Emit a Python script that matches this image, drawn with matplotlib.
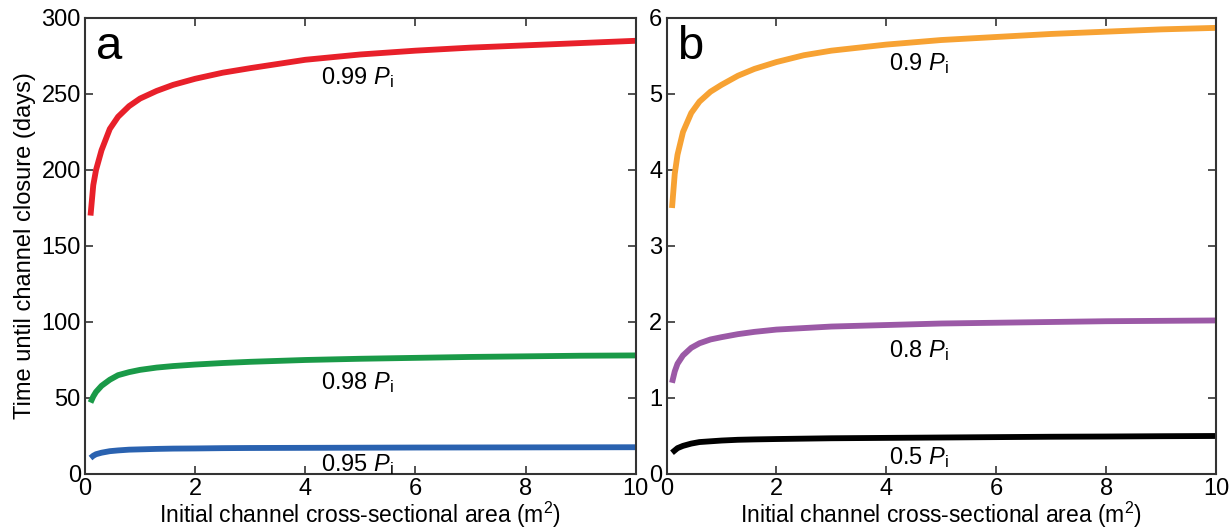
import numpy as np
import matplotlib.pyplot as plt

plt.rcParams['font.family'] = ['Liberation Sans', 'DejaVu Sans']
plt.rcParams['mathtext.fontset'] = 'custom'
plt.rcParams['mathtext.rm'] = 'Liberation Sans'
plt.rcParams['mathtext.it'] = 'Liberation Sans:italic'

# Data
area = [0.1, 0.15, 0.2, 0.3, 0.45, 0.6, 0.8, 1.0, 1.3, 1.6,
        2, 2.5, 3, 4, 5, 6, 7, 8, 9, 10]

t_099 = [170, 190, 200, 213, 227, 235, 242, 247, 252, 256,
         260, 264, 267, 272.5, 276, 278.5, 280.5, 282, 283.5, 285]
t_098 = [47, 51, 54, 58, 62, 65, 67, 68.5, 70, 71,
         72, 73, 73.8, 75, 75.8, 76.4, 77, 77.4, 77.8, 78]
t_095 = [10.5, 12, 13, 14, 15, 15.5, 16, 16.2, 16.5, 16.7,
         16.8, 17, 17.1, 17.2, 17.3, 17.4, 17.45, 17.5, 17.55, 17.6]

t_09 = [3.5, 3.95, 4.2, 4.5, 4.75, 4.9, 5.03, 5.12, 5.24, 5.33,
        5.42, 5.51, 5.57, 5.65, 5.71, 5.75, 5.79, 5.82, 5.85, 5.87]
t_08 = [1.2, 1.35, 1.45, 1.56, 1.66, 1.72, 1.77, 1.8, 1.84, 1.87,
        1.9, 1.92, 1.94, 1.96, 1.98, 1.99, 2.0, 2.01, 2.015, 2.02]
t_05 = [0.28, 0.31, 0.34, 0.37, 0.4, 0.42, 0.43, 0.44, 0.45, 0.455,
        0.46, 0.465, 0.47, 0.475, 0.48, 0.485, 0.49, 0.493, 0.497, 0.5]

fs = 17
fig = plt.figure(figsize=(12.32, 5.29), dpi=100)
ax1 = fig.add_axes([0.069, 0.104, 0.447, 0.862])
ax2 = fig.add_axes([0.541, 0.104, 0.446, 0.862])

lw = 4.2
ax1.plot(area, t_099, color='#e8202a', lw=lw, solid_capstyle='butt')
ax1.plot(area, t_098, color='#1a9a48', lw=lw, solid_capstyle='butt')
ax1.plot(area, t_095, color='#2a62b0', lw=lw, solid_capstyle='butt')
ax1.text(4.95, 261, r'0.99 $P_\mathrm{i}$', fontsize=fs, ha='center', va='center')
ax1.text(4.95, 60, r'0.98 $P_\mathrm{i}$', fontsize=fs, ha='center', va='center')
ax1.text(4.95, 6, r'0.95 $P_\mathrm{i}$', fontsize=fs, ha='center', va='center')
ax1.set_ylim(0, 300)
ax1.set_yticks([0, 50, 100, 150, 200, 250, 300])
ax1.set_ylabel('Time until channel closure (days)', fontsize=fs)
ax1.text(0.02, 0.985, 'a', transform=ax1.transAxes, fontsize=34, va='top', ha='left')

ax2.plot(area, t_09, color='#f7a233', lw=lw, solid_capstyle='butt')
ax2.plot(area, t_08, color='#9b59a6', lw=lw, solid_capstyle='butt')
ax2.plot(area, t_05, color='black', lw=lw, solid_capstyle='butt')
ax2.text(4.6, 5.4, r'0.9 $P_\mathrm{i}$', fontsize=fs, ha='center', va='center')
ax2.text(4.6, 1.63, r'0.8 $P_\mathrm{i}$', fontsize=fs, ha='center', va='center')
ax2.text(4.6, 0.21, r'0.5 $P_\mathrm{i}$', fontsize=fs, ha='center', va='center')
ax2.set_ylim(0, 6)
ax2.set_yticks([0, 1, 2, 3, 4, 5, 6])
ax2.text(0.02, 0.985, 'b', transform=ax2.transAxes, fontsize=34, va='top', ha='left')

for ax in (ax1, ax2):
    ax.set_xlim(0, 10)
    ax.set_xticks([0, 2, 4, 6, 8, 10])
    ax.set_xlabel('Initial channel cross-sectional area (m$^2$)', fontsize=16.5, labelpad=0)
    ax.tick_params(direction='in', top=True, right=True, length=6, width=1.2,
                   labelsize=fs, pad=3, color='#333333')
    for s in ax.spines.values():
        s.set_linewidth(1.5)
        s.set_color('#333333')

fig.savefig('out.png', dpi=100)
